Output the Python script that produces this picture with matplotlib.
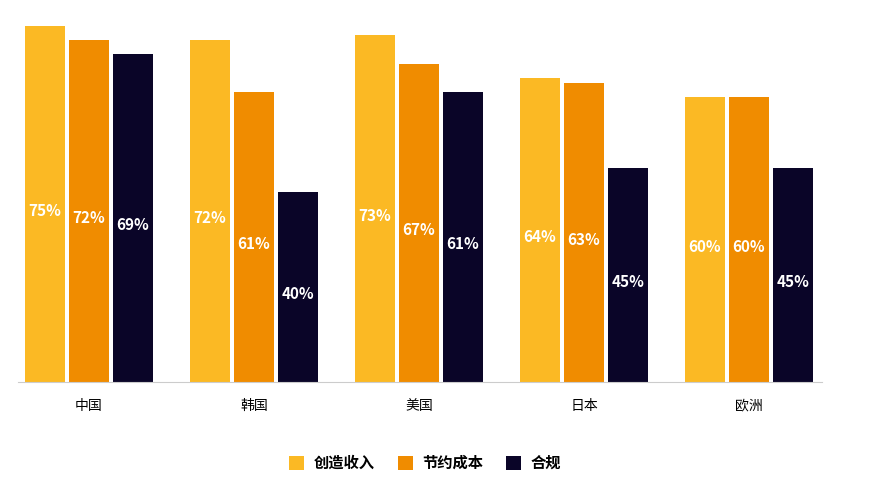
import matplotlib
matplotlib.use("Agg")
import matplotlib.pyplot as plt
import numpy as np

plt.rcParams["font.family"] = "Noto Sans CJK SC"

categories = ["中国", "韩国", "美国", "日本", "欧洲"]
series_names = ["创造收入", "节约成本", "合规"]
revenue = [75, 72, 73, 64, 60]
cost = [72, 61, 67, 63, 60]
compliance = [69, 40, 61, 45, 45]
colors = ["#FBB924", "#F08C00", "#0A0528"]

W, H = 876, 493
fig = plt.figure(figsize=(W / 100, H / 100), dpi=100)
ax = fig.add_axes([18 / W, (H - 382) / H, (822 - 18) / W, (382 - 26) / H])

x = np.arange(len(categories))
width = 40 / 165
step = 44 / 165
for k, (vals, c) in enumerate(zip([revenue, cost, compliance], colors)):
    pos = x + (k - 1) * step
    ax.bar(pos, vals, width, color=c, label=series_names[k])
    for p, v in zip(pos, vals):
        ax.text(p, v / 2 - 1.5, f"{v}%", ha="center", va="center",
                color="white", fontsize=11, fontweight="bold")

ax.set_xlim(-71 / 165, len(categories) - 1 + 733 / 165 - 4)
ax.set_ylim(0, 75)
ax.set_xticks(x)
ax.set_xticklabels(categories, fontsize=10)
ax.tick_params(axis="x", length=0, pad=12)
ax.set_yticks([])
for s in ["top", "right", "left"]:
    ax.spines[s].set_visible(False)
ax.spines["bottom"].set_color("#cccccc")

fig.legend(loc="center", bbox_to_anchor=(425 / W, 1 - 463 / H), ncol=3,
           frameon=False, handlelength=1.0, handleheight=1.0,
           columnspacing=1.5, handletextpad=0.6,
           prop={"size": 11, "weight": "bold"})

fig.savefig("out.png", dpi=100)
